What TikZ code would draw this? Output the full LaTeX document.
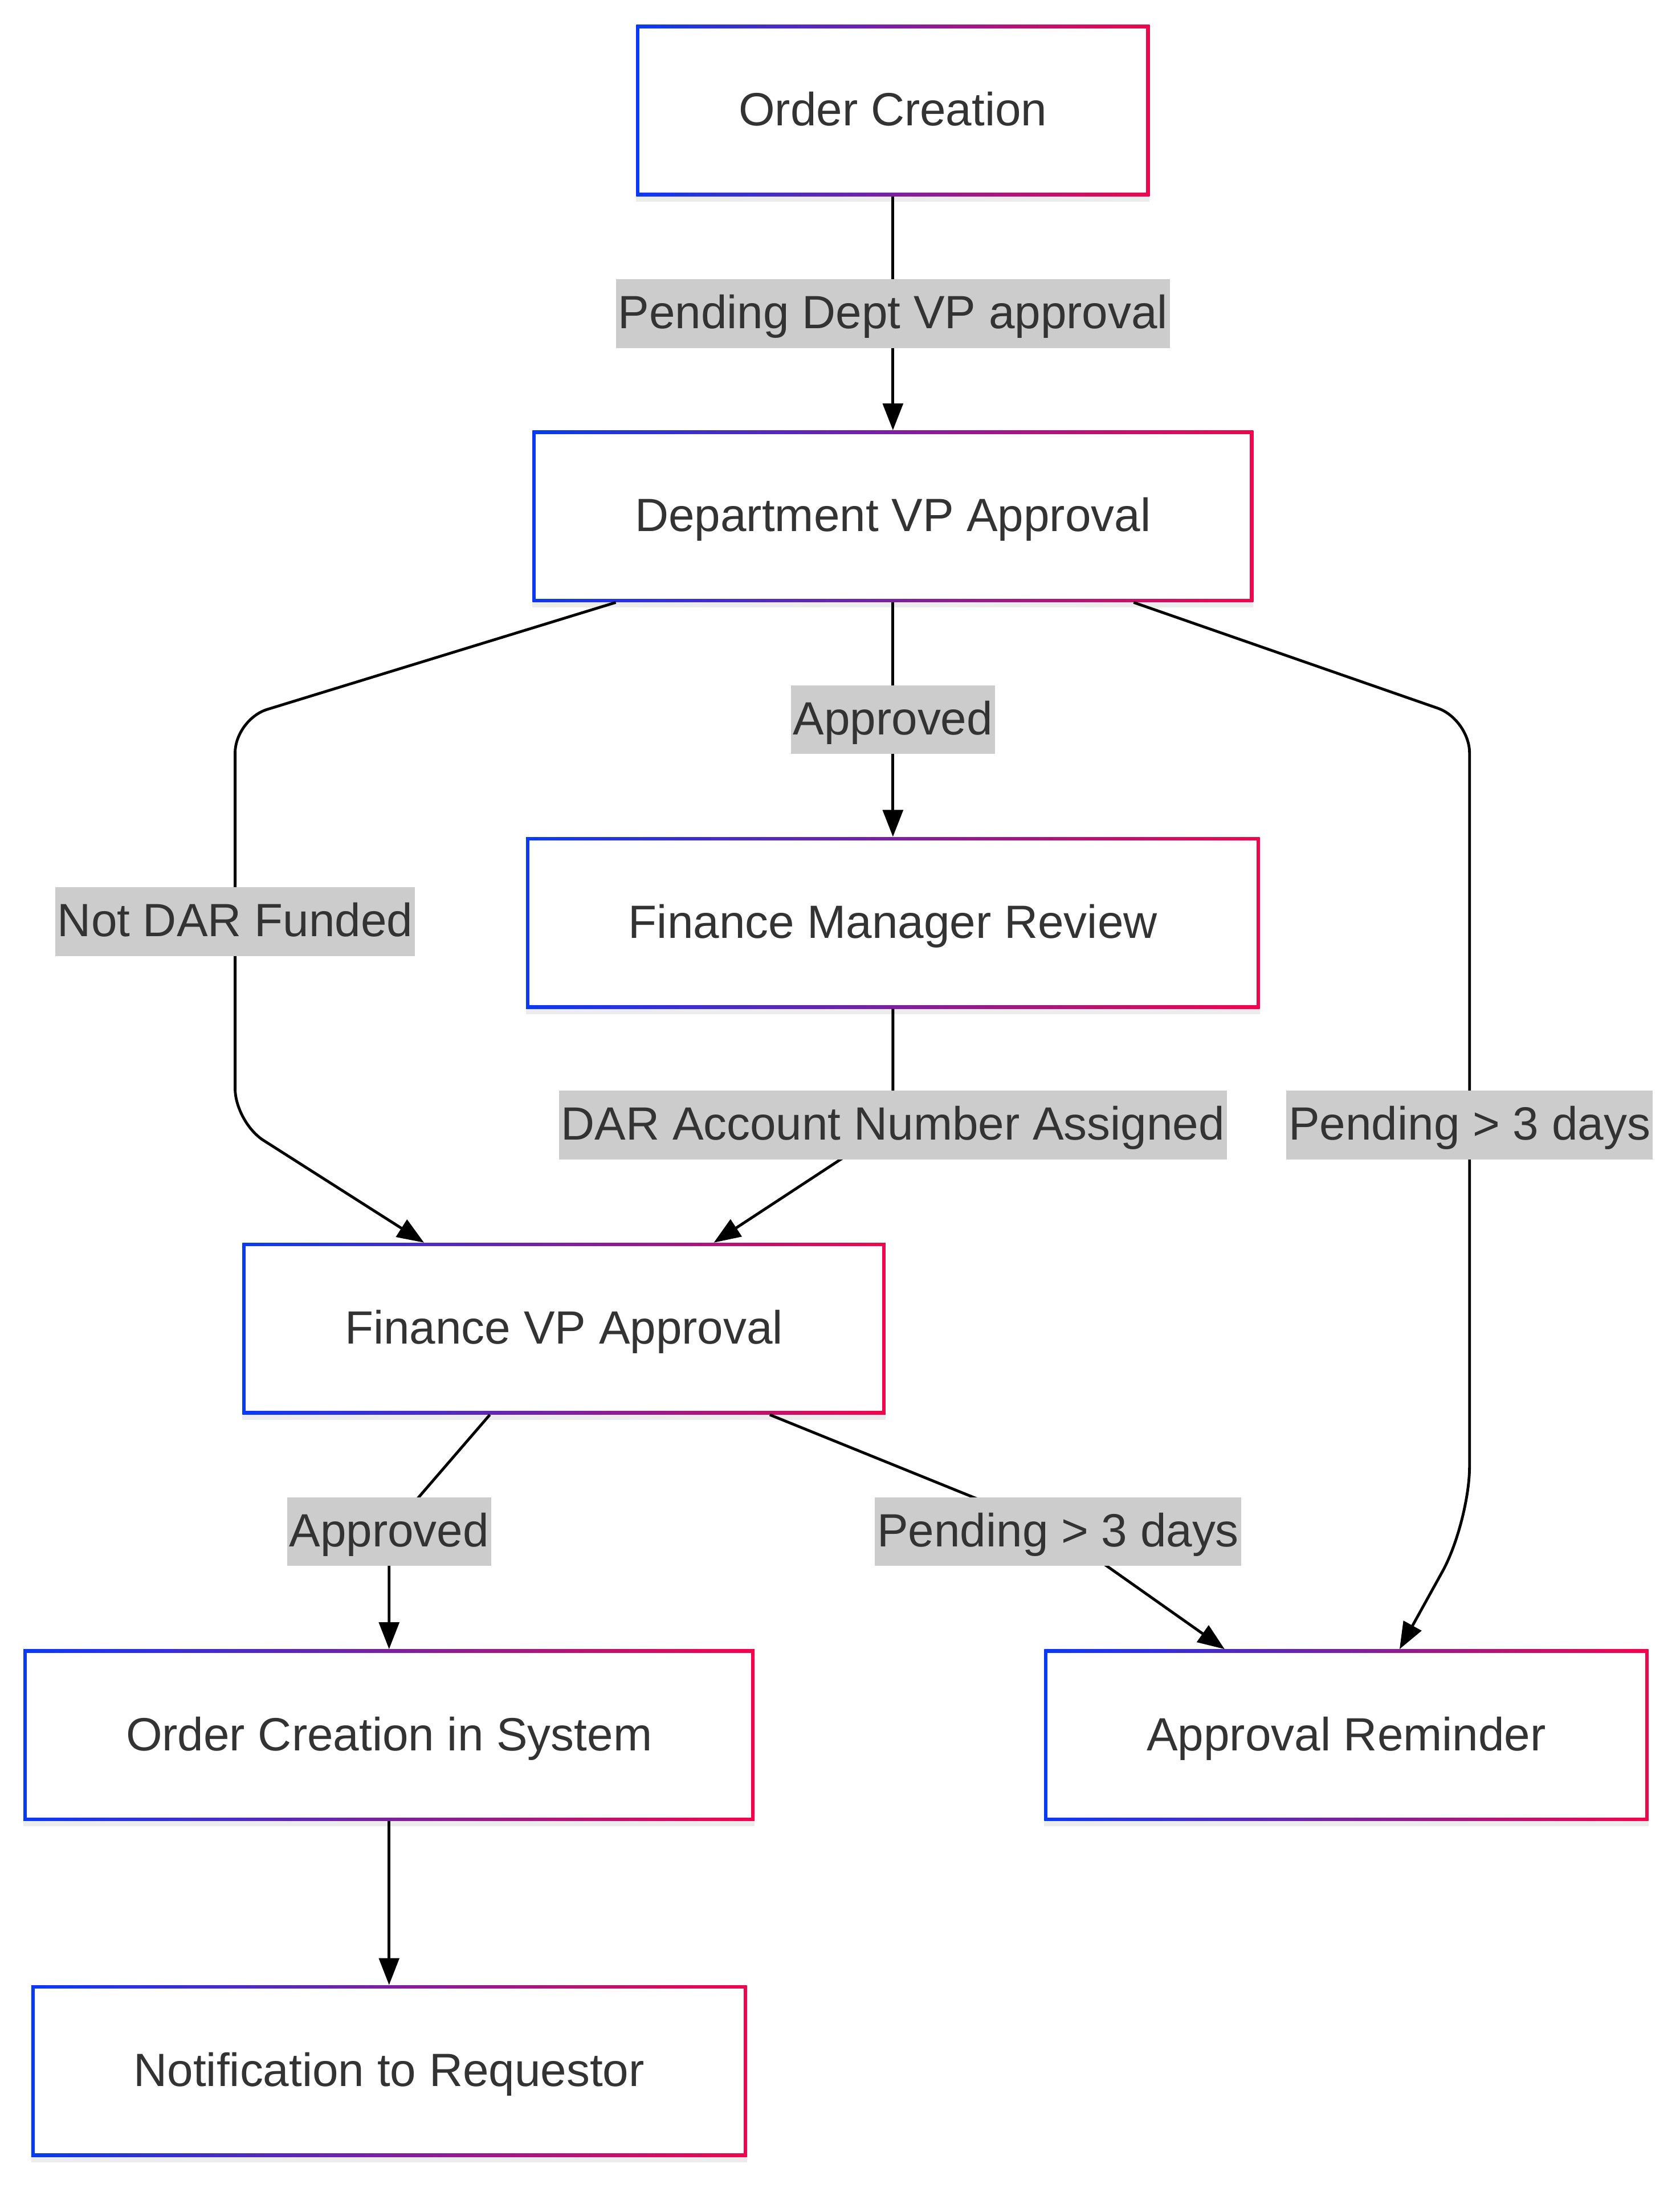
\documentclass[tikz,border=0pt]{standalone}
\usepackage{fontspec}
\setmainfont{Liberation Sans}
\usetikzlibrary{arrows.meta,shadows}

\definecolor{edgeblue}{RGB}{8,58,245}
\definecolor{edgered}{RGB}{240,6,76}
\definecolor{txtgray}{HTML}{333333}
\definecolor{taggray}{HTML}{CCCCCC}

\tikzset{
	stage/.style={rectangle, minimum height=3.06cm, inner xsep=1.83cm, inner ysep=0pt,
		text height=17.1pt, text depth=1.6pt, text=txtgray,
		left color=edgeblue, right color=edgered,
		drop shadow={shadow xshift=0cm, shadow yshift=-0.1cm, opacity=0.15},
		path picture={\fill[white] ([shift={(0.06cm,-0.06cm)}]path picture bounding box.north west) rectangle ([shift={(-0.06cm,0.06cm)}]path picture bounding box.south east);}},
	tag/.style={rectangle, sharp corners, fill=taggray, text=txtgray, inner xsep=0.04cm, inner ysep=0pt,
		text height=25.1pt, text depth=9.9pt},
	flow/.style={line width=1.4pt, -{Triangle[length=0.48cm,width=0.36cm]}, rounded corners=0.6cm},
}

\begin{document}
\begin{tikzpicture}[x=0.025cm, y=-0.025cm, font=\fontsize{23.7pt}{28pt}\selectfont]
		%\draw[lightgray] (0, 0) grid[step=100] (1200, 1563);
		\useasboundingbox (0, 0) rectangle (1200, 1563.6);
		
		\node[stage] (oc) at (638, 79) {Order Creation};
		\node[stage] (dvp) at (638, 369) {Department VP Approval};
		\node[stage] (fmr) at (638, 659.5) {Finance Manager Review};
		\node[stage] (fvp) at (403, 949.5) {Finance VP Approval};
		\node[stage] (ocs) at (278, 1240) {Order Creation in System};
		\node[stage] (rem) at (962, 1240) {Approval Reminder};
		\node[stage] (ntr) at (278, 1480) {Notification to Requestor};
		
		\draw[flow] (oc.south) -- node[tag] {Pending Dept VP approval} (dvp.north);
		\draw[flow] (dvp.south) -- node[tag] {Approved} (fmr.north);
		\draw[flow] (440, 0 |- dvp.south) -- (168, 514) -- (168, 658.5) node[tag] {Not DAR Funded} -- (168, 802) -- (303, 0 |- fvp.north);
		\draw[flow] (fmr.south) -- (638, 804) node[tag] {DAR Account Number Assigned} -- (510, 0 |- fvp.north);
		\draw[flow] (810, 0 |- dvp.south) -- (1050, 514) -- (1050, 804) node[tag] {Pending > 3 days} [rounded corners=1cm] -- (1050, 1088) -- (1000, 0 |- rem.north);
		\draw[flow] (350, 0 |- fvp.south) -- (278, 1094.5) node[tag] {Approved} -- (ocs.north);
		\draw[flow] (550, 0 |- fvp.south) -- (756, 1094.5) node[tag] {Pending > 3 days} -- (875, 0 |- rem.north);
		\draw[flow] (ocs.south) -- (ntr.north);
	\end{tikzpicture}
\end{document}
